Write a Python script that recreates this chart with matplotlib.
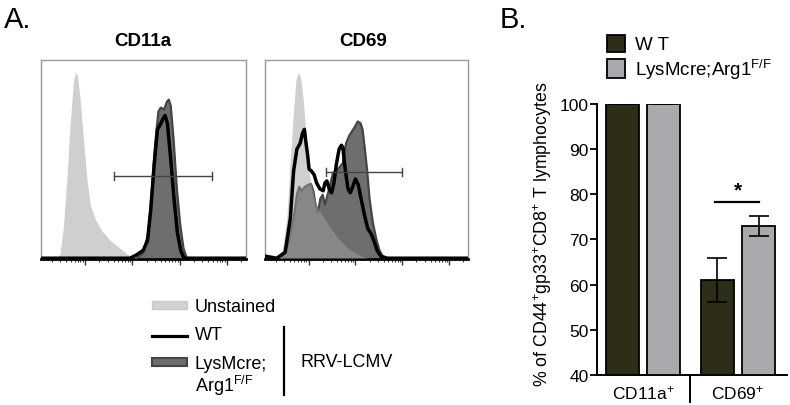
import matplotlib
matplotlib.use("Agg")
import matplotlib.pyplot as plt
import numpy as np
from matplotlib.patches import Rectangle
from matplotlib.lines import Line2D

plt.rcParams['font.family'] = ['Liberation Sans', 'DejaVu Sans']
plt.rcParams['mathtext.fontset'] = 'custom'
plt.rcParams['mathtext.rm'] = 'Liberation Sans'
plt.rcParams['mathtext.it'] = 'Liberation Sans:italic'
plt.rcParams['mathtext.bf'] = 'Liberation Sans:bold'

# ---------------- Panel A data (log10 fluorescence, normalized count) ----------------
cd11a_unst_x = [0.40, 0.47, 0.54, 0.61, 0.68, 0.75, 0.80, 0.84, 0.89, 0.96, 1.04, 1.11, 1.21, 1.35, 1.53, 1.74, 1.92, 2.02]
cd11a_unst_y = [0.0, 0.02, 0.15, 0.38, 0.66, 0.88, 0.94, 0.92, 0.82, 0.62, 0.40, 0.27, 0.20, 0.14, 0.09, 0.05, 0.015, 0.0]
cd11a_lys_x = [2.09, 2.23, 2.34, 2.41, 2.48, 2.55, 2.60, 2.67, 2.73, 2.77, 2.81, 2.87, 2.94, 3.01, 3.08, 3.15]
cd11a_lys_y = [0.0, 0.025, 0.13, 0.34, 0.57, 0.74, 0.76, 0.75, 0.79, 0.80, 0.77, 0.60, 0.35, 0.17, 0.05, 0.0]
cd11a_wt_x = [0.07, 1.95, 2.09, 2.23, 2.32, 2.39, 2.46, 2.53, 2.58, 2.64, 2.69, 2.74, 2.81, 2.88, 2.95, 3.02, 3.09, 4.40]
cd11a_wt_y = [0.0, 0.0, 0.017, 0.04, 0.09, 0.25, 0.47, 0.65, 0.67, 0.70, 0.72, 0.68, 0.50, 0.30, 0.13, 0.04, 0.0, 0.0]
cd11a_gate = [1.61, 3.68, 0.415]

cd69_unst_x = [0.39, 0.46, 0.54, 0.61, 0.68, 0.73, 0.78, 0.84, 0.89, 0.96, 1.03, 1.13, 1.20, 1.42, 1.63, 1.84, 2.12, 2.26]
cd69_unst_y = [0.0, 0.07, 0.22, 0.50, 0.75, 0.90, 0.94, 0.90, 0.79, 0.57, 0.40, 0.30, 0.25, 0.17, 0.10, 0.05, 0.01, 0.0]
cd69_lys_x = [0.43, 0.57, 0.68, 0.75, 0.80, 0.85, 0.92, 0.99, 1.05, 1.10, 1.15, 1.20, 1.25, 1.30, 1.35, 1.45, 1.52, 1.63,
              1.73, 1.80, 1.87, 1.98, 2.05, 2.11, 2.15, 2.20, 2.25, 2.30, 2.37, 2.44, 2.51, 2.58, 2.65]
cd69_lys_y = [0.0, 0.07, 0.20, 0.32, 0.36, 0.34, 0.36, 0.37, 0.375, 0.34, 0.27, 0.23, 0.30, 0.32, 0.27, 0.36, 0.43, 0.45,
              0.48, 0.58, 0.62, 0.66, 0.69, 0.68, 0.65, 0.55, 0.44, 0.30, 0.18, 0.10, 0.04, 0.01, 0.0]
cd69_wt_x = [0.07, 0.08, 0.32, 0.50, 0.61, 0.68, 0.75, 0.82, 0.87, 0.91, 0.94, 0.98, 1.01, 1.06, 1.12, 1.17, 1.24, 1.31,
             1.35, 1.39, 1.44, 1.49, 1.54, 1.59, 1.65, 1.70, 1.73, 1.78, 1.84, 1.89, 1.94, 2.00, 2.06, 2.12, 2.19,
             2.26, 2.33, 2.39, 2.46, 2.54, 2.68, 4.40]
cd69_wt_y = [0.01, 0.01, 0.0, 0.03, 0.20, 0.44, 0.55, 0.58, 0.63, 0.65, 0.59, 0.52, 0.45, 0.44, 0.42, 0.38, 0.35, 0.34,
             0.38, 0.39, 0.35, 0.33, 0.38, 0.47, 0.55, 0.57, 0.56, 0.45, 0.35, 0.33, 0.36, 0.40, 0.37, 0.30, 0.22,
             0.15, 0.125, 0.09, 0.04, 0.01, 0.0, 0.0]
cd69_gate = [1.38, 3.00, 0.435]

# ---------------- Panel B data ----------------
groups = ['CD11a$^{+}$', 'CD69$^{+}$']
wt_vals = [100, 61]
wt_err = [0, 4.8]
lys_vals = [100, 73]
lys_err = [0, 2.3]

W, H = 790, 406
fig = plt.figure(figsize=(W / 100, H / 100), dpi=100)

def fx(px):
    return px / W

def fy(py):
    return 1 - py / H

UNST = '#a1a1a1'
LYS = '#6e6e6e'
LYS_EDGE = '#454545'

def hist_panel(rect, ux, uy, lx, ly, wx, wy, gate):
    ax = fig.add_axes(rect)
    ax.fill_between(lx, ly, 0, color=LYS, lw=0, zorder=2)
    ax.plot(lx, ly, color=LYS_EDGE, lw=1.6, zorder=3)
    ax.fill_between(ux, uy, 0, color=UNST, alpha=0.5, lw=0, zorder=4)
    ax.plot(wx, wy, color='black', lw=2.5, zorder=6, solid_joinstyle='round')
    ax.plot([gate[0], gate[1]], [gate[2], gate[2]], color='#444444', lw=1.0, zorder=7)
    for g in gate[:2]:
        ax.plot([g, g], [gate[2] - 0.022, gate[2] + 0.022], color='#444444', lw=1.0, zorder=7)
    ax.set_xlim(0.07, 4.40)
    ax.set_ylim(-0.004, 1.0)
    for s in ['top', 'right', 'left']:
        ax.spines[s].set_color('#999999')
        ax.spines[s].set_linewidth(1.0)
    ax.spines['bottom'].set_color('black')
    ax.spines['bottom'].set_linewidth(2.0)
    ax.set_yticks([])
    ax.set_xticks([1, 2, 3, 4])
    minors = [d + np.log10(k) for d in range(0, 5) for k in range(2, 10) if 0.07 < d + np.log10(k) < 4.4]
    ax.set_xticks(minors, minor=True)
    ax.tick_params(axis='x', which='major', length=4, width=1, color='#333333', labelbottom=False)
    ax.tick_params(axis='x', which='minor', length=2.5, width=0.8, color='#333333')
    return ax

hist_panel([fx(41), fy(260), fx(246) - fx(41), fy(61) - fy(260)],
           cd11a_unst_x, cd11a_unst_y, cd11a_lys_x, cd11a_lys_y, cd11a_wt_x, cd11a_wt_y, cd11a_gate)
hist_panel([fx(265), fy(260), fx(468) - fx(265), fy(61) - fy(260)],
           cd69_unst_x, cd69_unst_y, cd69_lys_x, cd69_lys_y, cd69_wt_x, cd69_wt_y, cd69_gate)

fig.text(fx(143), fy(42), 'CD11a', ha='center', va='center', fontsize=13.5, fontweight='bold')
fig.text(fx(363), fy(42), 'CD69', ha='center', va='center', fontsize=13.5, fontweight='bold')
fig.text(fx(4), fy(28), 'A.', ha='left', va='baseline', fontsize=21)
fig.text(fx(500), fy(28), 'B.', ha='left', va='baseline', fontsize=21)

# Panel A legend
fig.patches.append(Rectangle((fx(152), fy(310)), fx(187) - fx(152), fy(302) - fy(310), transform=fig.transFigure,
                             facecolor='#d2d2d2', edgecolor='#c8c8c8', lw=1))
fig.text(fx(195), fy(307), 'Unstained', ha='left', va='center', fontsize=13)
fig.lines.append(Line2D([fx(152), fx(187)], [fy(337), fy(337)], transform=fig.transFigure, color='black', lw=2.3))
fig.text(fx(195), fy(336), 'WT', ha='left', va='center', fontsize=13)
fig.patches.append(Rectangle((fx(152), fy(367)), fx(187) - fx(152), fy(359) - fy(367), transform=fig.transFigure,
                             facecolor=LYS, edgecolor=LYS_EDGE, lw=1.5))
fig.text(fx(195), fy(365), 'LysMcre;', ha='left', va='center', fontsize=13)
fig.text(fx(195), fy(386), 'Arg1$^{\\mathrm{F/F}}$', ha='left', va='center', fontsize=13)
fig.lines.append(Line2D([fx(284), fx(284)], [fy(328), fy(396)], transform=fig.transFigure, color='black', lw=1.6))
fig.text(fx(300), fy(363), 'RRV-LCMV', ha='left', va='center', fontsize=13)

# Panel B
axb = fig.add_axes([fx(597), fy(376), fx(787) - fx(597), fy(105) - fy(376)])
x = np.arange(len(groups))
off = 0.216
bw = 0.353
WT_C = '#2e2d17'
LYS_C = '#a9a9ae'
axb.bar(x - off, np.array(wt_vals) - 40, bw, bottom=40, color=WT_C, edgecolor='black', lw=1.3,
        yerr=wt_err, capsize=7, error_kw=dict(ecolor='black', elinewidth=1.2, capthick=1.2), zorder=3)
axb.bar(x + off, np.array(lys_vals) - 40, bw, bottom=40, color=LYS_C, edgecolor='black', lw=1.3,
        yerr=lys_err, capsize=7, error_kw=dict(ecolor='black', elinewidth=1.2, capthick=1.2), zorder=3)
axb.set_xlim(-0.484, 1.516)
axb.set_ylim(40, 100)
axb.set_yticks(range(40, 101, 10))
axb.tick_params(axis='y', length=5, width=1.3, labelsize=12.5, pad=1)
axb.set_xticks([])
for s in ['top', 'right']:
    axb.spines[s].set_visible(False)
axb.spines['left'].set_linewidth(1.4)
axb.spines['bottom'].set_linewidth(1.4)
axb.spines['left'].set_bounds(40, 100)
# group labels + separator
for i, g in enumerate(groups):
    axb.text(x[i], -0.062, g, transform=axb.get_xaxis_transform(), ha='center', va='center', fontsize=12.5)
axb.plot([0.5, 0.5], [0, -0.1], transform=axb.get_xaxis_transform(), color='black', lw=1.4, clip_on=False)
# significance
sig_y = 78.3
axb.plot([x[1] - off - 0.03, x[1] + off + 0.005], [sig_y, sig_y], color='black', lw=1.6)
axb.text(x[1] - 0.005, sig_y + 0.6, '*', ha='center', va='bottom', fontsize=15, fontweight='bold')

fig.text(fx(543), fy(234), '% of CD44$^{+}$gp33$^{+}$CD8$^{+}$ T lymphocytes', rotation=90,
         ha='center', va='center', fontsize=12.8)

# Panel B legend
fig.patches.append(Rectangle((fx(607), fy(53)), fx(625) - fx(607), fy(36) - fy(53), transform=fig.transFigure,
                             facecolor=WT_C, edgecolor='black', lw=1.3))
fig.text(fx(635), fy(45), 'W T', ha='left', va='center', fontsize=13.5)
fig.patches.append(Rectangle((fx(607), fy(79)), fx(625) - fx(607), fy(60) - fy(79), transform=fig.transFigure,
                             facecolor=LYS_C, edgecolor='black', lw=1.3))
fig.text(fx(635), fy(70), 'LysMcre;Arg1$^{\\mathrm{F/F}}$', ha='left', va='center', fontsize=13.5)

fig.savefig('out.png', dpi=100)
